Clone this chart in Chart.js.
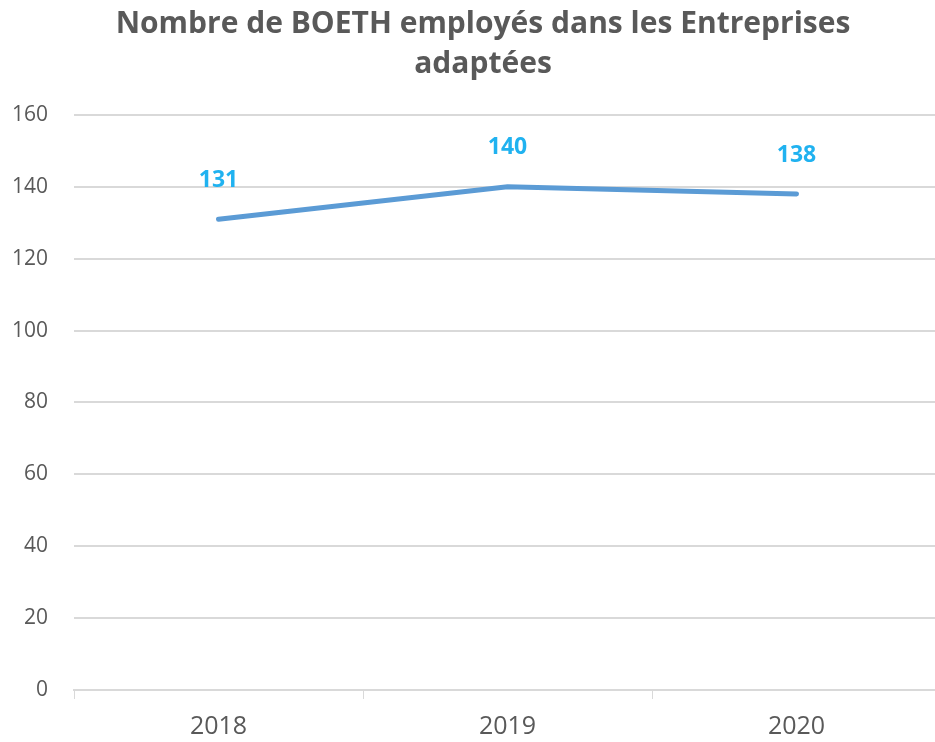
<!DOCTYPE html>
<html lang="fr">
<head>
<meta charset="utf-8">
<title>Nombre de BOETH employés dans les Entreprises adaptées</title>
<script src="https://cdn.jsdelivr.net/npm/chart.js@4/dist/chart.umd.min.js"></script>
<style>
  html, body { margin: 0; padding: 0; background: #fff; overflow: hidden; }
  #cadre { width: 935px; height: 742px; overflow: hidden; }
  #zone { width: 945px; height: 742px; position: relative; }
</style>
</head>
<body>
<div id="cadre"><div id="zone"><canvas id="graph"></canvas></div></div>
<script>
// ── Données ───────────────────────────────────────────────────────────
const annees    = ["2018", "2019", "2020"];
const effectifs = [131, 140, 138];
const titre     = ["Nombre de BOETH employés dans les Entreprises", "adaptées"];

// ── Couleurs ──────────────────────────────────────────────────────────
const C_LIGNE  = "#5B9BD5";
const C_ETIQ   = "#20B2F0";
const C_TEXTE  = "#595959";
const C_GRILLE = "#D9D9D9";

Chart.defaults.font.family = "'Open Sans', 'Noto Sans', sans-serif";
Chart.defaults.color = C_TEXTE;

// Étiquettes de valeur au-dessus des points
const etiquettes = {
  id: "etiquettes",
  afterLayout(chart) {
    // le titre est centré sur la zone visible (décalage du bloc)
    if (chart.titleBlock) { chart.titleBlock.left += 25; }
  },
  afterDatasetsDraw(chart) {
    const ctx = chart.ctx;
    const meta = chart.getDatasetMeta(0);
    ctx.save();
    ctx.fillStyle = C_ETIQ;
    ctx.font = "bold 23px 'Open Sans', sans-serif";
    ctx.textAlign = "center";
    ctx.textBaseline = "middle";
    meta.data.forEach((pt, i) => {
      ctx.fillText(String(effectifs[i]), pt.x, pt.y - 39);
    });
    ctx.restore();
  },
};

new Chart(document.getElementById("graph"), {
  type: "line",
  data: {
    labels: annees,
    datasets: [{
      label: "BOETH",
      data: effectifs,
      borderColor: C_LIGNE,
      borderWidth: 5,
      borderCapStyle: "round",
      pointRadius: 0,
      tension: 0,
    }],
  },
  options: {
    responsive: true, maintainAspectRatio: false, animation: false,
    layout: { padding: { left: 0, right: 4, top: 0, bottom: -13 } },
    plugins: {
      legend: { display: false },
      tooltip: { enabled: false },
      title: {
        display: true, text: titre, color: C_TEXTE,
        font: { size: 30, weight: "bold", lineHeight: 1.333 },
        padding: { top: 4, bottom: 31 },
      },
    },
    scales: {
      x: {
        offset: true,
        grid: { offset: true, drawOnChartArea: false, drawTicks: true, tickLength: 9, color: C_GRILLE },
        border: { color: C_GRILLE, width: 2 },
        ticks: { font: { size: 25 }, color: C_TEXTE, padding: 13 },
      },
      y: {
        min: 0, max: 160,
        afterFit: s => { s.width = 74; },
        grid: { color: C_GRILLE, lineWidth: 2, drawTicks: false },
        border: { display: false },
        ticks: { stepSize: 20, font: { size: 21 }, color: C_TEXTE, padding: 26 },
      },
    },
  },
  plugins: [etiquettes],
});
</script>
</body>
</html>
